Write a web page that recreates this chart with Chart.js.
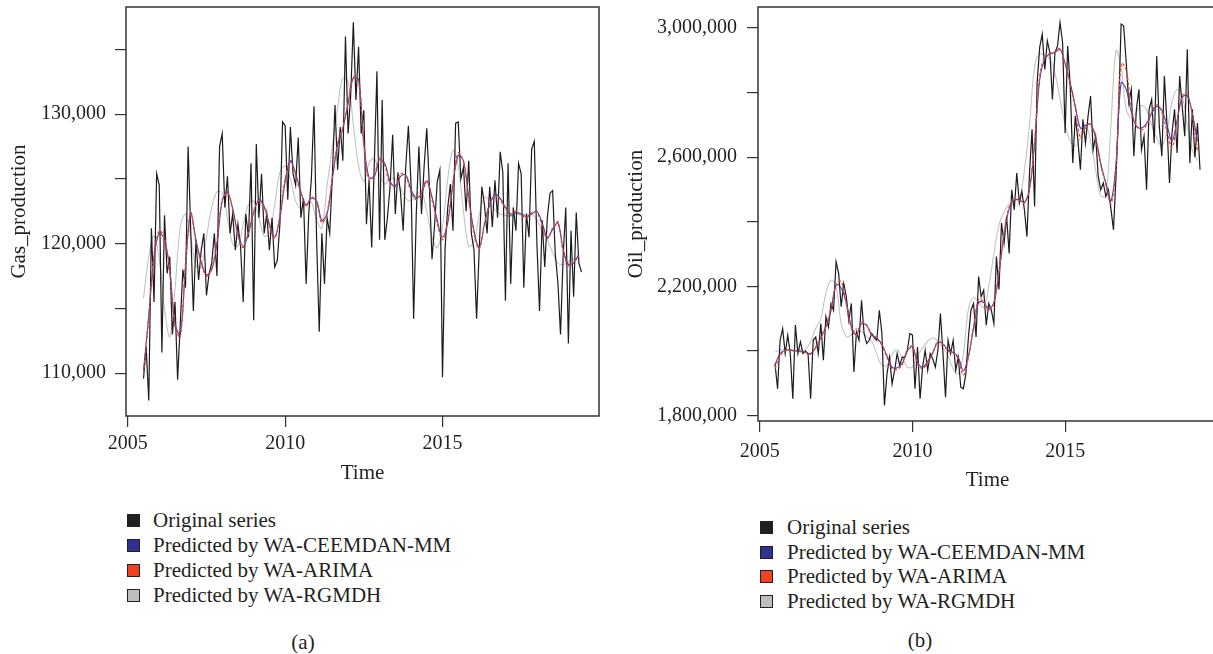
<!DOCTYPE html>
<html>
<head>
<meta charset="utf-8">
<title>Gas and oil production forecasts</title>
<script src="https://cdn.jsdelivr.net/npm/chart.js@4.4.0/dist/chart.umd.min.js"></script>
<style>
  html, body { margin: 0; padding: 0; background: #fff; overflow: hidden; width: 1213px; height: 654px; }
  body { position: relative; font-family: 'Liberation Serif', 'DejaVu Serif', serif; color: #231f20; }
  canvas { position: absolute; top: 0; }
  #gasChart { left: 0; }
  #oilChart { left: 610px; }
  .legend { position: absolute; font-size: 21px; }
  .legend .row { position: absolute; left: 0; height: 24px; line-height: 24px; white-space: nowrap; }
  .legend .sw { position: absolute; left: 0; top: 6px; width: 11px; height: 11px; border: 1px solid #231f20; }
  .legend .txt { position: absolute; top: 0; }
  .cap { position: absolute; font-size: 21px; transform: translate(-50%, -50%); white-space: nowrap; }
</style>
</head>
<body>
<canvas id="gasChart" width="610" height="500"></canvas>
<canvas id="oilChart" width="620" height="500"></canvas>
<div id="legendA" class="legend" style="left:127px; top:508px;"></div>
<div id="legendB" class="legend" style="left:760px; top:515px;"></div>
<div class="cap" style="left:303px; top:642px;">(a)</div>
<div class="cap" style="left:920px; top:640px;">(b)</div>
<script>
// monthly series start in July 2005; the predictions are read every second month
const startYear = 2005.5;
const monthStep = 1 / 12;
const predStep = 2 / 12;

const seriesNames = ['Original series', 'Predicted by WA-CEEMDAN-MM', 'Predicted by WA-ARIMA', 'Predicted by WA-RGMDH'];
const lineColors = ['#1c1c1c', '#3d3db4', '#ee4526', '#c4c4c4'];
const swatchColors = ['#231f20', '#2e3192', '#ef4123', '#bcbec0'];

const yearTicks = [2005, 2010, 2015];
const yearLabels = ['2005', '2010', '2015'];
const gasTicks = [110000, 115000, 120000, 125000, 130000, 135000];
const gasTickLabels = ['110,000', '', '120,000', '', '130,000', ''];
const oilTicks = [1800000, 2000000, 2200000, 2400000, 2600000, 2800000, 3000000];
const oilTickLabels = ['1,800,000', '', '2,200,000', '', '2,600,000', '', '3,000,000'];

// (a) gas production, monthly
const gasOriginal = [
  109600, 112000, 107900, 121200, 115500, 125400,
  124500, 111600, 122200, 117700, 119000, 113000, 115500, 109500, 113800, 118000, 116600, 127500,
  121000, 114800, 120300, 117200, 119500, 120800, 116000, 117700, 118500, 120800, 117500, 127500,
  128500, 122800, 125200, 120800, 122300, 119500, 121500, 119800, 115500, 122300, 120500, 126200,
  114100, 127700, 122000, 125400, 120800, 122300, 119500, 122000, 118200, 118700, 121500, 129400,
  129100, 123400, 129000, 125400, 124500, 128200, 122000, 123500, 116900, 122300, 125000, 130600,
  120300, 113200, 120800, 116900, 122000, 120800, 125200, 130700, 125700, 129000, 126400, 136000,
  128500, 131500, 137100, 131100, 135200, 128500, 130300, 121500, 124900, 119700, 126200, 133300,
  120300, 131100, 120300, 122000, 124400, 128400, 122300, 125500, 123900, 121000, 126000, 129100,
  124600, 114200, 122300, 127500, 122300, 126000, 128900, 124400, 118800, 121500, 124800, 125700,
  109700, 119700, 122800, 124600, 121000, 129300, 129400, 125000, 125900, 122500, 126400, 120800,
  119500, 114200, 119600, 124400, 123000, 120800, 124400, 121300, 124900, 122000, 127100, 125500,
  115600, 126200, 116900, 122800, 121000, 126200, 125400, 116600, 122300, 120500, 127300, 127900,
  120000, 114800, 121800, 118200, 122100, 123900, 124100, 119200, 117000, 113000, 119000, 122800,
  112300, 121000, 115900, 122400, 118500, 117800
];
// (a) predictions, every second month
const gasCeemdan = [
  110200, 114500, 119000, 120800, 120300, 118000, 113800, 113000, 118200, 122300,
  120300, 118600, 117600, 118000, 120000, 123300, 124000, 122700, 120800, 119800,
  120800, 122400, 123400, 122900, 121500, 120500, 122000, 124800, 126400, 125400,
  124000, 123000, 123500, 123300, 121800, 122300, 125000, 127600, 128900, 130800,
  132800, 132700, 127800, 125100, 125200, 126500, 126200, 124800, 124400, 125200,
  125300, 124200, 123500, 123900, 124800, 123600, 121800, 120500, 121600, 124600,
  126800, 126400, 123600, 121000, 119700, 121500, 123000, 123800, 123500, 122800,
  122200, 122400, 122300, 122100, 122300, 122500, 121600, 120500, 121100, 121600,
  119600, 118400, 118500, 119200
];
const gasArima = [
  110000, 114300, 119200, 121000, 120400, 117800, 113600, 112800, 118400, 122400,
  120100, 118500, 117500, 118100, 120200, 123400, 123900, 122600, 120600, 119700,
  121000, 122500, 123300, 122800, 121400, 120400, 122200, 125000, 126300, 125200,
  123900, 122900, 123600, 123200, 121600, 122400, 125100, 127800, 129000, 130900,
  132900, 132500, 127600, 124900, 125300, 126600, 126000, 124600, 124500, 125400,
  125200, 124000, 123400, 124000, 124900, 123400, 121600, 120300, 121800, 124800,
  127000, 126300, 123400, 120800, 119600, 121600, 123100, 123700, 123400, 122700,
  122300, 122500, 122200, 122000, 122400, 122400, 121400, 120400, 121200, 121700,
  119400, 118300, 118600, 119000
];
const gasRgmdh = [
  115800, 119000, 120600, 118800, 115000, 112800, 116500, 121300, 122300, 120500,
  118300, 118200, 120500, 122800, 124000, 123900, 122000, 120000, 119800, 121500,
  123000, 123300, 122000, 120600, 120800, 123000, 125500, 126000, 125000, 123300,
  122700, 123000, 123200, 121800, 121200, 124500, 127500, 130500, 132800, 132500,
  129200, 126000, 124800, 126200, 126600, 125300, 124600, 125000, 125000, 124300,
  123500, 123300, 123800, 124000, 122500, 120500, 119700, 121300, 125000, 127200,
  126000, 122500, 119800, 120200, 122200, 123600, 123300, 122600, 122300, 122200,
  122100, 122300, 122200, 122300, 122300, 121800, 121000, 120300, 119300, 118500,
  118400, 118600, 118800, 118900
];

// (b) oil production, monthly
const oilOriginal = [
  1960000, 1883000, 2033000, 2069000, 1992000, 2049000,
  1992000, 1852000, 2080000, 1992000, 2028000, 1992000, 2000000, 1990000, 1852000, 2033000, 2043000, 1992000,
  2085000, 1971000, 2106000, 2074000, 2147000, 2126000, 2276000, 2240000, 2137000, 2209000, 2168000, 2095000,
  2147000, 1935000, 2059000, 2033000, 2157000, 2054000, 2023000, 2033000, 2054000, 2040000, 2033000, 2126000,
  2054000, 1831000, 1929000, 1981000, 1898000, 1940000, 1992000, 1955000, 1981000, 1980000, 2002000, 2054000,
  2049000, 1883000, 2012000, 1852000, 1950000, 2002000, 1940000, 1992000, 1975000, 1950000, 2002000, 2116000,
  1992000, 1857000, 2033000, 1992000, 2033000, 1940000, 1981000, 1888000, 1883000, 1929000, 2043000, 2126000,
  2147000, 2043000, 2230000, 2168000, 2188000, 2080000, 2147000, 2126000, 2085000, 2292000, 2190000, 2396000,
  2333000, 2416000, 2302000, 2499000, 2437000, 2551000, 2458000, 2494000, 2437000, 2354000, 2551000, 2686000,
  2447000, 2830000, 2940000, 2981000, 2872000, 2960000, 2924000, 2779000, 2924000, 2944000, 3017000, 2955000,
  2675000, 2944000, 2820000, 2582000, 2727000, 2654000, 2561000, 2717000, 2644000, 2727000, 2789000, 2623000,
  2665000, 2541000, 2499000, 2520000, 2478000, 2499000, 2440000, 2375000, 2541000, 2748000, 3012000, 3007000,
  2893000, 2768000, 2810000, 2603000, 2748000, 2810000, 2623000, 2665000, 2499000, 2748000, 2779000, 2644000,
  2913000, 2696000, 2603000, 2851000, 2706000, 2520000, 2675000, 2748000, 2613000, 2851000, 2758000, 2665000,
  2934000, 2582000, 2748000, 2600000, 2706000, 2561000
];
// (b) predictions, every second month
const oilCeemdan = [
  1958000, 1992000, 2002000, 2002000, 2000000, 2000000, 1996000, 1992000, 2010000, 2040000,
  2075000, 2125000, 2205000, 2195000, 2150000, 2075000, 2050000, 2085000, 2078000, 2050000,
  2040000, 2020000, 1985000, 1950000, 1948000, 1962000, 2000000, 2012000, 1965000, 1950000,
  1968000, 1995000, 2028000, 2022000, 2002000, 1995000, 1980000, 1938000, 1985000, 2070000,
  2150000, 2150000, 2130000, 2150000, 2240000, 2360000, 2440000, 2468000, 2468000, 2460000,
  2500000, 2640000, 2840000, 2905000, 2920000, 2924000, 2934000, 2890000, 2830000, 2758000,
  2690000, 2698000, 2702000, 2660000, 2580000, 2520000, 2465000, 2580000, 2830000, 2810000,
  2740000, 2695000, 2690000, 2705000, 2735000, 2757000, 2745000, 2700000, 2650000, 2715000,
  2785000, 2790000, 2735000, 2650000
];
const oilArima = [
  1945000, 1985000, 2000000, 2003000, 2001000, 1998000, 1995000, 1990000, 2012000, 2042000,
  2078000, 2130000, 2205000, 2215000, 2145000, 2070000, 2048000, 2090000, 2080000, 2048000,
  2038000, 2018000, 1980000, 1945000, 1943000, 1958000, 2002000, 2015000, 1960000, 1945000,
  1965000, 1993000, 2030000, 2020000, 2000000, 1993000, 1975000, 1925000, 1980000, 2075000,
  2160000, 2152000, 2125000, 2148000, 2245000, 2365000, 2445000, 2470000, 2466000, 2458000,
  2505000, 2650000, 2850000, 2910000, 2922000, 2926000, 2936000, 2888000, 2825000, 2750000,
  2660000, 2690000, 2705000, 2655000, 2575000, 2515000, 2455000, 2570000, 2890000, 2870000,
  2745000, 2700000, 2685000, 2700000, 2740000, 2762000, 2740000, 2680000, 2630000, 2710000,
  2790000, 2795000, 2730000, 2620000
];
const oilRgmdh = [
  1997000, 2003000, 2005000, 2004000, 2002000, 2003000, 2005000, 2030000, 2070000, 2100000,
  2180000, 2219000, 2200000, 2085000, 2045000, 2050000, 2070000, 2060000, 2045000, 2030000,
  1990000, 1955000, 1955000, 1990000, 2003000, 1980000, 1950000, 1950000, 1985000, 2010000,
  2030000, 2040000, 2030000, 2010000, 1985000, 1945000, 1930000, 1990000, 2130000, 2165000,
  2150000, 2135000, 2200000, 2300000, 2390000, 2430000, 2455000, 2465000, 2470000, 2560000,
  2700000, 2880000, 2920000, 2915000, 2905000, 2860000, 2780000, 2700000, 2650000, 2635000,
  2660000, 2700000, 2650000, 2560000, 2480000, 2480000, 2700000, 2930000, 2880000, 2750000,
  2720000, 2740000, 2760000, 2745000, 2700000, 2660000, 2635000, 2680000, 2770000, 2810000,
  2790000, 2700000, 2620000, 2590000
];

Chart.defaults.font.family = "'Liberation Serif', 'DejaVu Serif', serif";
Chart.defaults.color = '#231f20';

function toPoints(values, step) {
  return values.map((v, i) => ({ x: startYear + i * step, y: v }));
}

// R-style box around the plot region
const framePlugin = {
  id: 'frame',
  afterDraw(chart) {
    const { ctx, chartArea: a } = chart;
    ctx.save();
    ctx.strokeStyle = '#333';
    ctx.lineWidth = 1.5;
    ctx.strokeRect(a.left, a.top, a.right - a.left, a.bottom - a.top);
    ctx.restore();
  }
};

function buildChart(id, s) {
  const lists = [s.original, s.ceemdan, s.arima, s.rgmdh];
  const datasets = lists.map((vals, k) => ({
    label: seriesNames[k],
    data: toPoints(vals, k === 0 ? monthStep : predStep),
    borderColor: lineColors[k],
    borderWidth: [1.2, 1.1, 1.3, 1.1][k],
    borderDash: k === 2 ? [3, 2] : [],
    pointRadius: 0,
    tension: k === 0 ? 0 : 0.35,
    order: [2, 1, 0, 3][k],
    fill: false
  }));
  const tickGrid = { display: true, drawOnChartArea: false, drawTicks: true, tickLength: 11, color: '#333', lineWidth: 1.2 };
  return new Chart(document.getElementById(id), {
    type: 'line',
    data: { datasets },
    options: {
      responsive: false,
      animation: false,
      layout: { padding: s.pad, autoPadding: false },
      plugins: { legend: { display: false }, tooltip: { enabled: false } },
      scales: {
        x: {
          type: 'linear',
          min: 2004.943,
          max: 2019.973,
          afterBuildTicks: sc => { sc.ticks = yearTicks.map(v => ({ value: v })); },
          afterFit: sc => { sc.height = s.xHeight; sc.paddingLeft = 0; sc.paddingRight = 0; },
          grid: tickGrid,
          border: { display: false },
          ticks: { autoSkip: false, maxRotation: 0, padding: s.xTickPad, font: { size: 20 }, color: '#231f20',
                   callback: (v, i) => yearLabels[i] },
          title: { display: true, text: 'Time', font: { size: 21 }, color: '#231f20', padding: { top: 0, bottom: s.xTitlePad } }
        },
        y: {
          type: 'linear',
          min: s.yMin,
          max: s.yMax,
          afterBuildTicks: sc => { sc.ticks = s.yTicks.map(v => ({ value: v })); },
          afterFit: sc => { sc.width = s.yWidth; sc.paddingTop = 0; sc.paddingBottom = 0; },
          grid: tickGrid,
          border: { display: false },
          ticks: { autoSkip: false, padding: s.yTickPad, font: { size: 20 }, color: '#231f20',
                   callback: (v, i) => s.yLabels[i] },
          title: { display: true, text: s.yTitle, font: { size: 21 }, color: '#231f20', padding: { top: s.yTitlePad, bottom: 0 } }
        }
      }
    },
    plugins: [framePlugin]
  });
}

buildChart('gasChart', {
  original: gasOriginal, ceemdan: gasCeemdan, arima: gasArima, rgmdh: gasRgmdh,
  yTicks: gasTicks, yLabels: gasTickLabels, yMin: 106700, yMax: 138270, yTitle: 'Gas_production',
  pad: { left: 0, top: 7, right: 11, bottom: 0 },
  yWidth: 126, xHeight: 84, xTickPad: 5, yTickPad: 9, xTitlePad: 14, yTitlePad: 7
});

buildChart('oilChart', {
  original: oilOriginal, ceemdan: oilCeemdan, arima: oilArima, rgmdh: oilRgmdh,
  yTicks: oilTicks, yLabels: oilTickLabels, yMin: 1783000, yMax: 3065000, yTitle: 'Oil_production',
  pad: { left: 0, top: 7, right: 13, bottom: 0 },
  yWidth: 148, xHeight: 79, xTickPad: 8, yTickPad: 10, xTitlePad: 7, yTitlePad: 14
});

function buildLegend(id, textLeft, rowGap) {
  const box = document.getElementById(id);
  seriesNames.forEach((name, k) => {
    const row = document.createElement('div');
    row.className = 'row';
    row.style.top = (k * rowGap) + 'px';
    row.innerHTML = '<span class="sw" style="background:' + swatchColors[k] + '"></span>' +
      '<span class="txt" style="left:' + textLeft + 'px">' + name + '</span>';
    box.appendChild(row);
  });
}
buildLegend('legendA', 26, 25);
buildLegend('legendB', 27, 24.5);
</script>
</body>
</html>
